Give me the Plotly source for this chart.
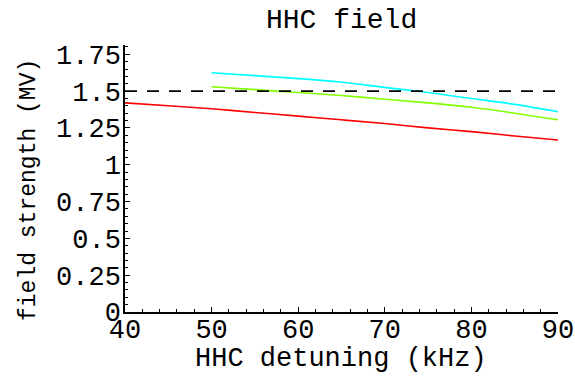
import plotly.graph_objects as go

detuning_red = [40, 45, 50, 55, 60, 65, 70, 75, 80, 85, 90]
field_red = [1.42, 1.40, 1.38, 1.355, 1.33, 1.305, 1.28, 1.25, 1.225, 1.195, 1.168]

detuning_hi = [50, 55, 60, 65, 70, 75, 80, 85, 90]
field_cyan = [1.625, 1.605, 1.585, 1.56, 1.525, 1.49, 1.45, 1.41, 1.36]
field_green = [1.53, 1.51, 1.49, 1.47, 1.445, 1.42, 1.39, 1.35, 1.305]

limit_x = [40, 90]
limit_y = [1.5, 1.5]

x_ticks = [40, 50, 60, 70, 80, 90]
y_ticks = [0, 0.25, 0.5, 0.75, 1, 1.25, 1.5, 1.75]
y_tick_text = ["0", "0.25", "0.5", "0.75", "1", "1.25", "1.5", "1.75"]

FONT = "Courier New, Liberation Mono, monospace"

W, H = 575, 376
l, r, t, b = 125, 17, 45, 64
pw, ph = W - l - r, H - t - b


def px(xp):
    return (xp - l) / pw


def py(yp):
    return (H - b - yp) / ph


fig = go.Figure()
fig.add_trace(go.Scatter(x=detuning_red, y=field_red, mode="lines",
                         line=dict(color="#ff0000", width=1.6, shape="spline")))
fig.add_trace(go.Scatter(x=detuning_hi, y=field_cyan, mode="lines",
                         line=dict(color="#00ffff", width=1.6, shape="spline")))
fig.add_trace(go.Scatter(x=detuning_hi, y=field_green, mode="lines",
                         line=dict(color="#80ff00", width=1.6, shape="spline")))
fig.add_trace(go.Scatter(x=limit_x, y=limit_y, mode="lines",
                         line=dict(color="black", width=1.6, dash="12px,10px")))

fig.update_layout(
    width=W, height=H,
    margin=dict(l=l, r=r, t=t, b=b, autoexpand=False),
    paper_bgcolor="white", plot_bgcolor="white",
    showlegend=False,
    font=dict(family=FONT, size=27, color="black"),
    xaxis=dict(range=[40, 90], tickvals=x_ticks, ticks="inside", ticklen=5,
               tickwidth=1.2, tickcolor="black", showline=True, linecolor="black",
               linewidth=1.5, showgrid=False, zeroline=False, automargin=False,
               tickfont=dict(family=FONT, size=27), ticklabelstandoff=-8,
               minor=dict(dtick=2, ticks="inside", ticklen=3, tickcolor="black",
                          showgrid=False)),
    yaxis=dict(range=[0, 1.813], tickvals=y_ticks, ticktext=y_tick_text,
               ticks="inside", ticklen=5, tickwidth=1.2, tickcolor="black",
               showline=True, linecolor="black", linewidth=1.5, showgrid=False,
               zeroline=False, automargin=False, tickfont=dict(family=FONT, size=27),
               ticklabelstandoff=-3,
               minor=dict(dtick=0.05, ticks="inside", ticklen=3, tickcolor="black",
                          showgrid=False)),
    annotations=[
        dict(text="HHC field", x=px(341.5), y=py(20), xref="paper", yref="paper",
             xanchor="center", yanchor="middle",
             showarrow=False, font=dict(family=FONT, size=28)),
        dict(text="HHC detuning (kHz)", x=px(341), y=py(359), xref="paper",
             yref="paper", xanchor="center", yanchor="middle",
             showarrow=False, font=dict(family=FONT, size=27)),
        dict(text="field strength (MV)", x=px(29), y=py(190), xref="paper",
             yref="paper", textangle=-90, xanchor="center", yanchor="middle",
             showarrow=False, font=dict(family=FONT, size=23)),
    ],
)

fig.write_html("out.html")
